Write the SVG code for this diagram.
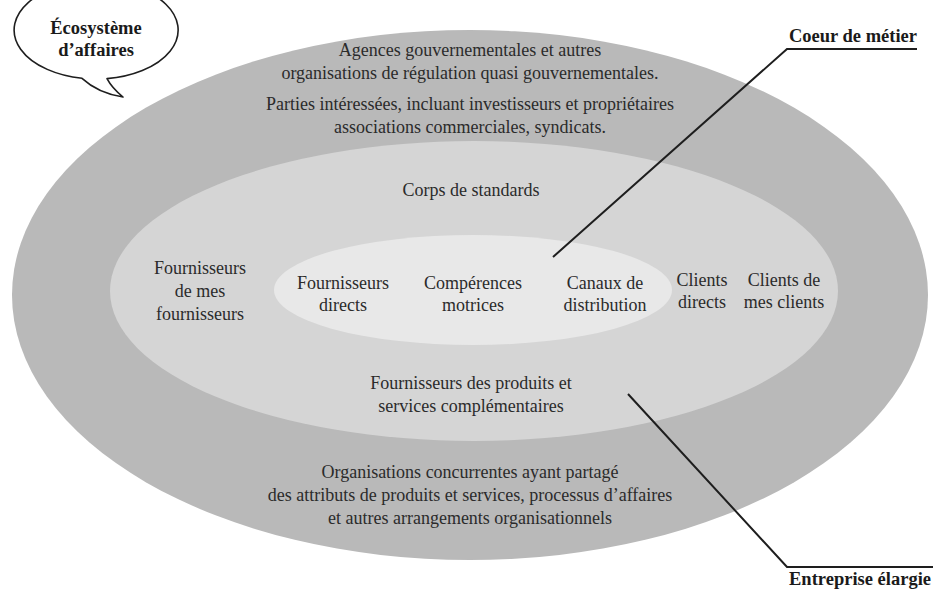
<svg xmlns="http://www.w3.org/2000/svg" width="933" height="592" viewBox="0 0 933 592">
<style>
text{font-family:"Liberation Serif","Times New Roman",serif;fill:#2b2b2b;font-size:18px;text-anchor:middle}
.b{font-weight:bold;fill:#1a1a1a;font-size:18.5px}
.r{text-anchor:end}
.lead{fill:none;stroke:#1e1e1e;stroke-width:2}
</style>
<rect width="933" height="592" fill="#ffffff"/>
<g id="ecosysteme">
<ellipse cx="470" cy="295" rx="458" ry="265" fill="#b9b9b9"/>
<text x="470" y="56">Agences gouvernementales et autres</text>
<text x="470" y="79">organisations de régulation quasi gouvernementales.</text>
<text x="470" y="110">Parties intéressées, incluant investisseurs et propriétaires</text>
<text x="470" y="133">associations commerciales, syndicats.</text>
<text x="470" y="478">Organisations concurrentes ayant partagé</text>
<text x="470" y="501">des attributs de produits et services, processus d’affaires</text>
<text x="470" y="524">et autres arrangements organisationnels</text>
</g>
<g id="entreprise-elargie">
<ellipse cx="474" cy="291" rx="364" ry="150" fill="#d5d5d5"/>
<text x="471" y="196">Corps de standards</text>
<text x="200" y="274">Fournisseurs</text>
<text x="200" y="297">de mes</text>
<text x="200" y="320">fournisseurs</text>
<text x="702" y="286">Clients</text>
<text x="702" y="308">directs</text>
<text x="784" y="286">Clients de</text>
<text x="784" y="308">mes clients</text>
<text x="471" y="389">Fournisseurs des produits et</text>
<text x="471" y="412">services complémentaires</text>
</g>
<g id="coeur-de-metier">
<ellipse cx="473" cy="290" rx="199" ry="55" fill="#e8e8e8"/>
<text x="343" y="289">Fournisseurs</text>
<text x="343" y="311">directs</text>
<text x="473" y="289">Compérences</text>
<text x="473" y="311">motrices</text>
<text x="605" y="289">Canaux de</text>
<text x="605" y="311">distribution</text>
</g>
<g id="bulle">
<path d="M107 78.6 A82 49 0 1 0 82 78.3 Q98 93 123 97 Q112 88 107 78.6 Z" fill="#ffffff" stroke="#1e1e1e" stroke-width="1.6" stroke-linejoin="round"/>
<text class="b" x="96" y="34">Écosystème</text>
<text class="b" x="96" y="56">d’affaires</text>
</g>
<g id="label-coeur">
<text class="b r" x="917" y="42">Coeur de métier</text>
</g>
<g id="label-entreprise">
<text class="b r" x="931" y="585">Entreprise élargie</text>
</g>
<g id="connectors">
<polyline class="lead" points="917,49 787,49 553,257"/>
<polyline class="lead" points="933,567 787,567 628,394"/>
</g>
</svg>
